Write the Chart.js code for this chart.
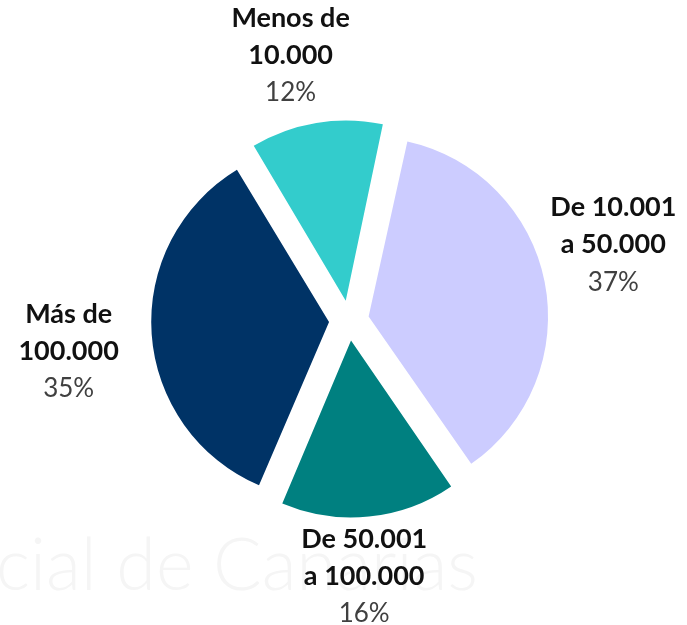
<!DOCTYPE html>
<html>
<head>
<meta charset="utf-8">
<script src="https://cdn.jsdelivr.net/npm/chart.js@4"></script>
<style>
  html, body { margin: 0; padding: 0; background: #fff; }
  #wrap { width: 687px; height: 625px; position: relative; }
</style>
</head>
<body>
<div id="wrap"><canvas id="pieChart"></canvas></div>
<script>
// categories (two lines each) and their shares in %
const categoryLines = [
  ["Menos de", "10.000"],
  ["De 10.001", "a 50.000"],
  ["De 50.001", "a 100.000"],
  ["Más de", "100.000"]
];
const shares = [12, 37, 16, 35];
const sliceColors = ["#33CCCC", "#CCCCFF", "#008080", "#003366"];
const watermarkText = "cial de Canarias";

const pieCanvas = document.getElementById("pieChart");
const fontFamily = "Lato, 'Open Sans', sans-serif";

// faint background watermark
const watermark = {
  id: "watermark",
  beforeDraw(chart) {
    const ctx = chart.ctx;
    ctx.save();
    ctx.fillStyle = "#f5f5f5";
    ctx.font = "300 72px " + fontFamily;
    ctx.textBaseline = "alphabetic";
    ctx.textAlign = "left";
    ctx.fillText(watermarkText, -4, 590);
    ctx.restore();
  }
};

// outside labels: bold category + plain percentage
// per-slice tweaks of the label placement (gap past the rim, turn in degrees)
const labelGap = [98, 101, 82, 108];
const labelTurn = [-3, -4.8, 2.4, -2.2];

const outsideLabels = {
  id: "outsideLabels",
  afterDatasetsDraw(chart) {
    const ctx = chart.ctx;
    const arcs = chart.getDatasetMeta(0).data;
    const lineH = 37;
    arcs.forEach((arc, i) => {
      const p = arc.getProps(["x", "y", "startAngle", "endAngle", "outerRadius"], true);
      const mid = (p.startAngle + p.endAngle) / 2 + labelTurn[i] * Math.PI / 180;
      const dist = p.outerRadius + labelGap[i];
      const cx = p.x + Math.cos(mid) * dist;
      const cy = p.y + Math.sin(mid) * dist;
      const lines = categoryLines[i];
      const top = cy - lineH;
      ctx.save();
      ctx.textAlign = "center";
      ctx.textBaseline = "middle";
      ctx.fillStyle = "#111";
      ctx.font = "bold 27px " + fontFamily;
      lines.forEach((t, j) => ctx.fillText(t, cx, top + j * lineH));
      ctx.fillStyle = "#404040";
      ctx.font = "26px " + fontFamily;
      ctx.fillText(shares[i] + "%", cx, top + lines.length * lineH + 1);
      ctx.restore();
    });
  }
};

new Chart(pieCanvas, {
  type: "pie",
  data: {
    labels: categoryLines.map(l => l.join(" ")),
    datasets: [{
      data: shares,
      backgroundColor: sliceColors,
      borderWidth: 0,
      offset: 80
    }]
  },
  options: {
    responsive: true,
    maintainAspectRatio: false,
    animation: false,
    rotation: -31,
    radius: 174,
    layout: { padding: { left: 11, top: 16, right: 0, bottom: 0 } },
    plugins: {
      legend: { display: false },
      tooltip: { enabled: false }
    }
  },
  plugins: [watermark, outsideLabels]
});
</script>
</body>
</html>
